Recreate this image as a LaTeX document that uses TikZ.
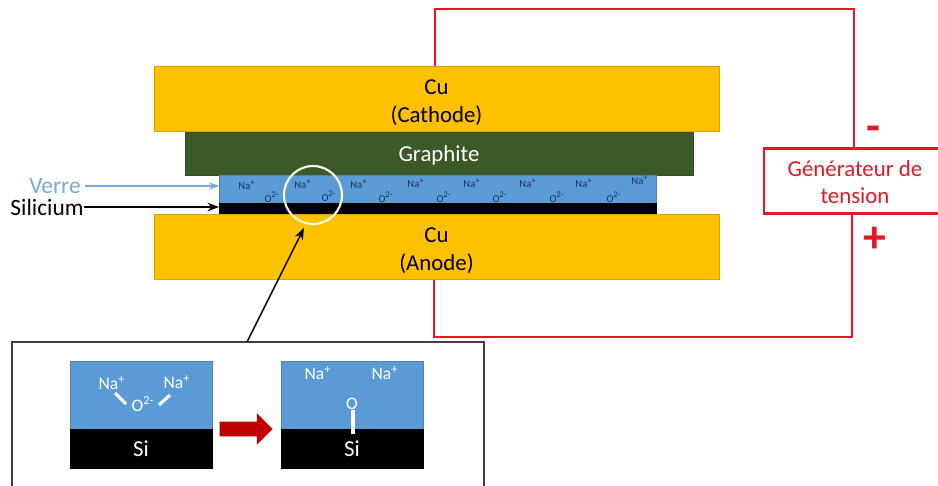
\documentclass[tikz,border=0pt]{standalone}
\usepackage{fontspec}
\setmainfont{Carlito}
\usepackage{xcolor}
\usetikzlibrary{arrows.meta, positioning, shapes.arrows}
\definecolor{copper}{RGB}{255,192,0}
\definecolor{graphitegreen}{RGB}{60,90,40}
\definecolor{glassblue}{RGB}{91,155,213}
\definecolor{wirered}{RGB}{225,25,35}
\definecolor{arrowred}{RGB}{192,0,0}
\definecolor{labelblue}{RGB}{120,170,220}
\definecolor{iondark}{RGB}{30,50,100}

\begin{document}
\begin{tikzpicture}[
  x=0.02cm, y=-0.02cm,
  node distance=0pt,
  layer/.style={rectangle, draw=#1!85!black, fill=#1, inner sep=0pt, outer sep=0pt, line width=0.3pt, align=center, font=\fontsize{13}{16}\selectfont},
  ion/.style={inner sep=0pt, text=iondark, font=\fontsize{6}{7}\selectfont},
  inion/.style={inner sep=0pt, text=white, font=\fontsize{10}{12}\selectfont},
  wire/.style={draw=wirered, line width=1.3pt},
  bond/.style={draw=white, line width=1.8pt}
]
  \useasboundingbox (0,0) rectangle (938,485);

  % stack
  \node[layer=copper, minimum width=11.3cm, minimum height=1.3cm] (cathode) at (436.5,98.5) {\rule{0pt}{12.7pt}Cu\\(Cathode)};
  \node[layer=graphitegreen, text=white, text depth=0pt, minimum width=10.16cm, minimum height=0.86cm, below=0.5pt of cathode, xshift=0.05cm] (graphite) {Graphite};
  \node[layer=glassblue, minimum width=8.74cm, minimum height=0.56cm, below=0pt of graphite, xshift=-0.03cm] (verre) {};
  \node[layer=black, minimum width=8.74cm, minimum height=0.22cm, below=0pt of verre] (silicium) {};
  \node[layer=copper, minimum width=11.3cm, minimum height=1.3cm, below=0.5pt of silicium, xshift=-0.02cm] (anode) {\rule{0pt}{12.7pt}Cu\\(Anode)};

  % ions in the glass
  \node[ion] (na1) at (247,185) {Na\textsuperscript{+}};
  \node[ion] (na2) at (303,184) {Na\textsuperscript{+}};
  \node[ion] (na3) at (359,184) {Na\textsuperscript{+}};
  \node[ion] (na4) at (416,183) {Na\textsuperscript{+}};
  \node[ion] (na5) at (472,183) {Na\textsuperscript{+}};
  \node[ion] (na6) at (528,183) {Na\textsuperscript{+}};
  \node[ion] (na7) at (584,183) {Na\textsuperscript{+}};
  \node[ion] (na8) at (640,180) {Na\textsuperscript{+}};
  \node[ion] (o1) at (272,197) {O\textsuperscript{2-}};
  \node[ion] (o2) at (329,196) {O\textsuperscript{2-}};
  \node[ion] (o3) at (386,197) {O\textsuperscript{2-}};
  \node[ion] (o4) at (444,197) {O\textsuperscript{2-}};
  \node[ion] (o5) at (500,197) {O\textsuperscript{2-}};
  \node[ion] (o6) at (557,197) {O\textsuperscript{2-}};
  \node[ion] (o7) at (614,197) {O\textsuperscript{2-}};

  \node[circle, draw=white!92!yellow, line width=1.2pt, minimum size=1.16cm, inner sep=0pt] (zoomring) at (313,195) {};

  % labels on the left
  \node[inner sep=0pt, text=labelblue, font=\fontsize{13.3}{14}\selectfont] (verrelabel) at (55,186) {Verre};
  \node[inner sep=0pt, font=\fontsize{13.3}{14}\selectfont] (siliciumlabel) at (47,207) {Silicium};
  \draw[-Stealth, draw=labelblue, line width=0.6pt] (verrelabel.east) ++(4,0) -- (verrelabel.east -| verre.west);
  \draw[-Stealth, line width=0.8pt] (siliciumlabel.east) -- (siliciumlabel.east -| silicium.west);

  % generator and wires
  \node[rectangle, draw=wirered, fill=white, line width=1.3pt, text=wirered, align=center, minimum width=3.64cm, minimum height=1.3cm, inner sep=0pt, font=\fontsize{13}{15.5}\selectfont] (generateur) at (855,181) {\rule{0pt}{10.5pt}Générateur de\\tension};
  \node[text=wirered, inner sep=0pt, font=\bfseries\fontsize{26}{26}\selectfont] (moins) at (873,134) {-};
  \node[text=wirered, inner sep=0pt, font=\bfseries\fontsize{26}{26}\selectfont] (plus) at (875,240) {+};
  \coordinate (hautgauche) at (435,9);
  \coordinate (hautdroite) at (854,9);
  \coordinate (basgauche) at (434,337);
  \coordinate (basdroite) at (852,337);
  \draw[wire] (hautgauche |- cathode.north) -- (hautgauche) -- (hautdroite) -- (hautdroite |- generateur.north);
  \draw[wire] (basgauche |- anode.south) -- (basgauche) -- (basdroite) -- (basdroite |- generateur.south);

  % inset
  \node[rectangle, draw=black!75, line width=0.8pt, minimum width=9.44cm, minimum height=3.2cm] (encart) at (248,422) {};
  \coordinate (encartdepart) at (247,342);
  \coordinate (encartfin) at (304,228);
  \draw[-Stealth, line width=0.8pt] (encartdepart) -- (encartfin);

  \node[layer=glassblue, minimum width=2.84cm, minimum height=1.36cm] (verreavant) at (141,395) {};
  \node[layer=black, text=white, minimum width=2.84cm, minimum height=0.78cm, below=0pt of verreavant] (siavant) {\raisebox{-1pt}{Si}};
  \node[layer=glassblue, minimum width=2.84cm, minimum height=1.36cm] (verreapres) at (352,395) {};
  \node[layer=black, text=white, minimum width=2.84cm, minimum height=0.78cm, below=0pt of verreapres] (siapres) {\raisebox{-1pt}{Si}};
  \node[single arrow, fill=arrowred, inner sep=0pt, text height=0.28cm, text width=0pt, minimum height=1.06cm, single arrow head extend=0.17cm, single arrow tip angle=90] (transition) at (242.5,429) {};

  \node[inion] (naa) at (112,383) {Na\textsuperscript{+}};
  \node[inion] (nab) at (177,382) {Na\textsuperscript{+}};
  \node[inion] (oa) at (143,404) {O\textsuperscript{2-}};
  \coordinate (liena) at (115,393);
  \coordinate (lienb) at (126,404);
  \coordinate (lienc) at (159,405);
  \coordinate (liend) at (170,395);
  \draw[bond] (liena) -- (lienb);
  \draw[bond] (lienc) -- (liend);
  \node[inion] (nac) at (318,373) {Na\textsuperscript{+}};
  \node[inion] (nad) at (385,373) {Na\textsuperscript{+}};
  \node[inion] (ob) at (352,404) {O};
  \coordinate (liene) at (353,434);
  \draw[bond] (ob.south -| liene) -- (liene);
\end{tikzpicture}
\end{document}
